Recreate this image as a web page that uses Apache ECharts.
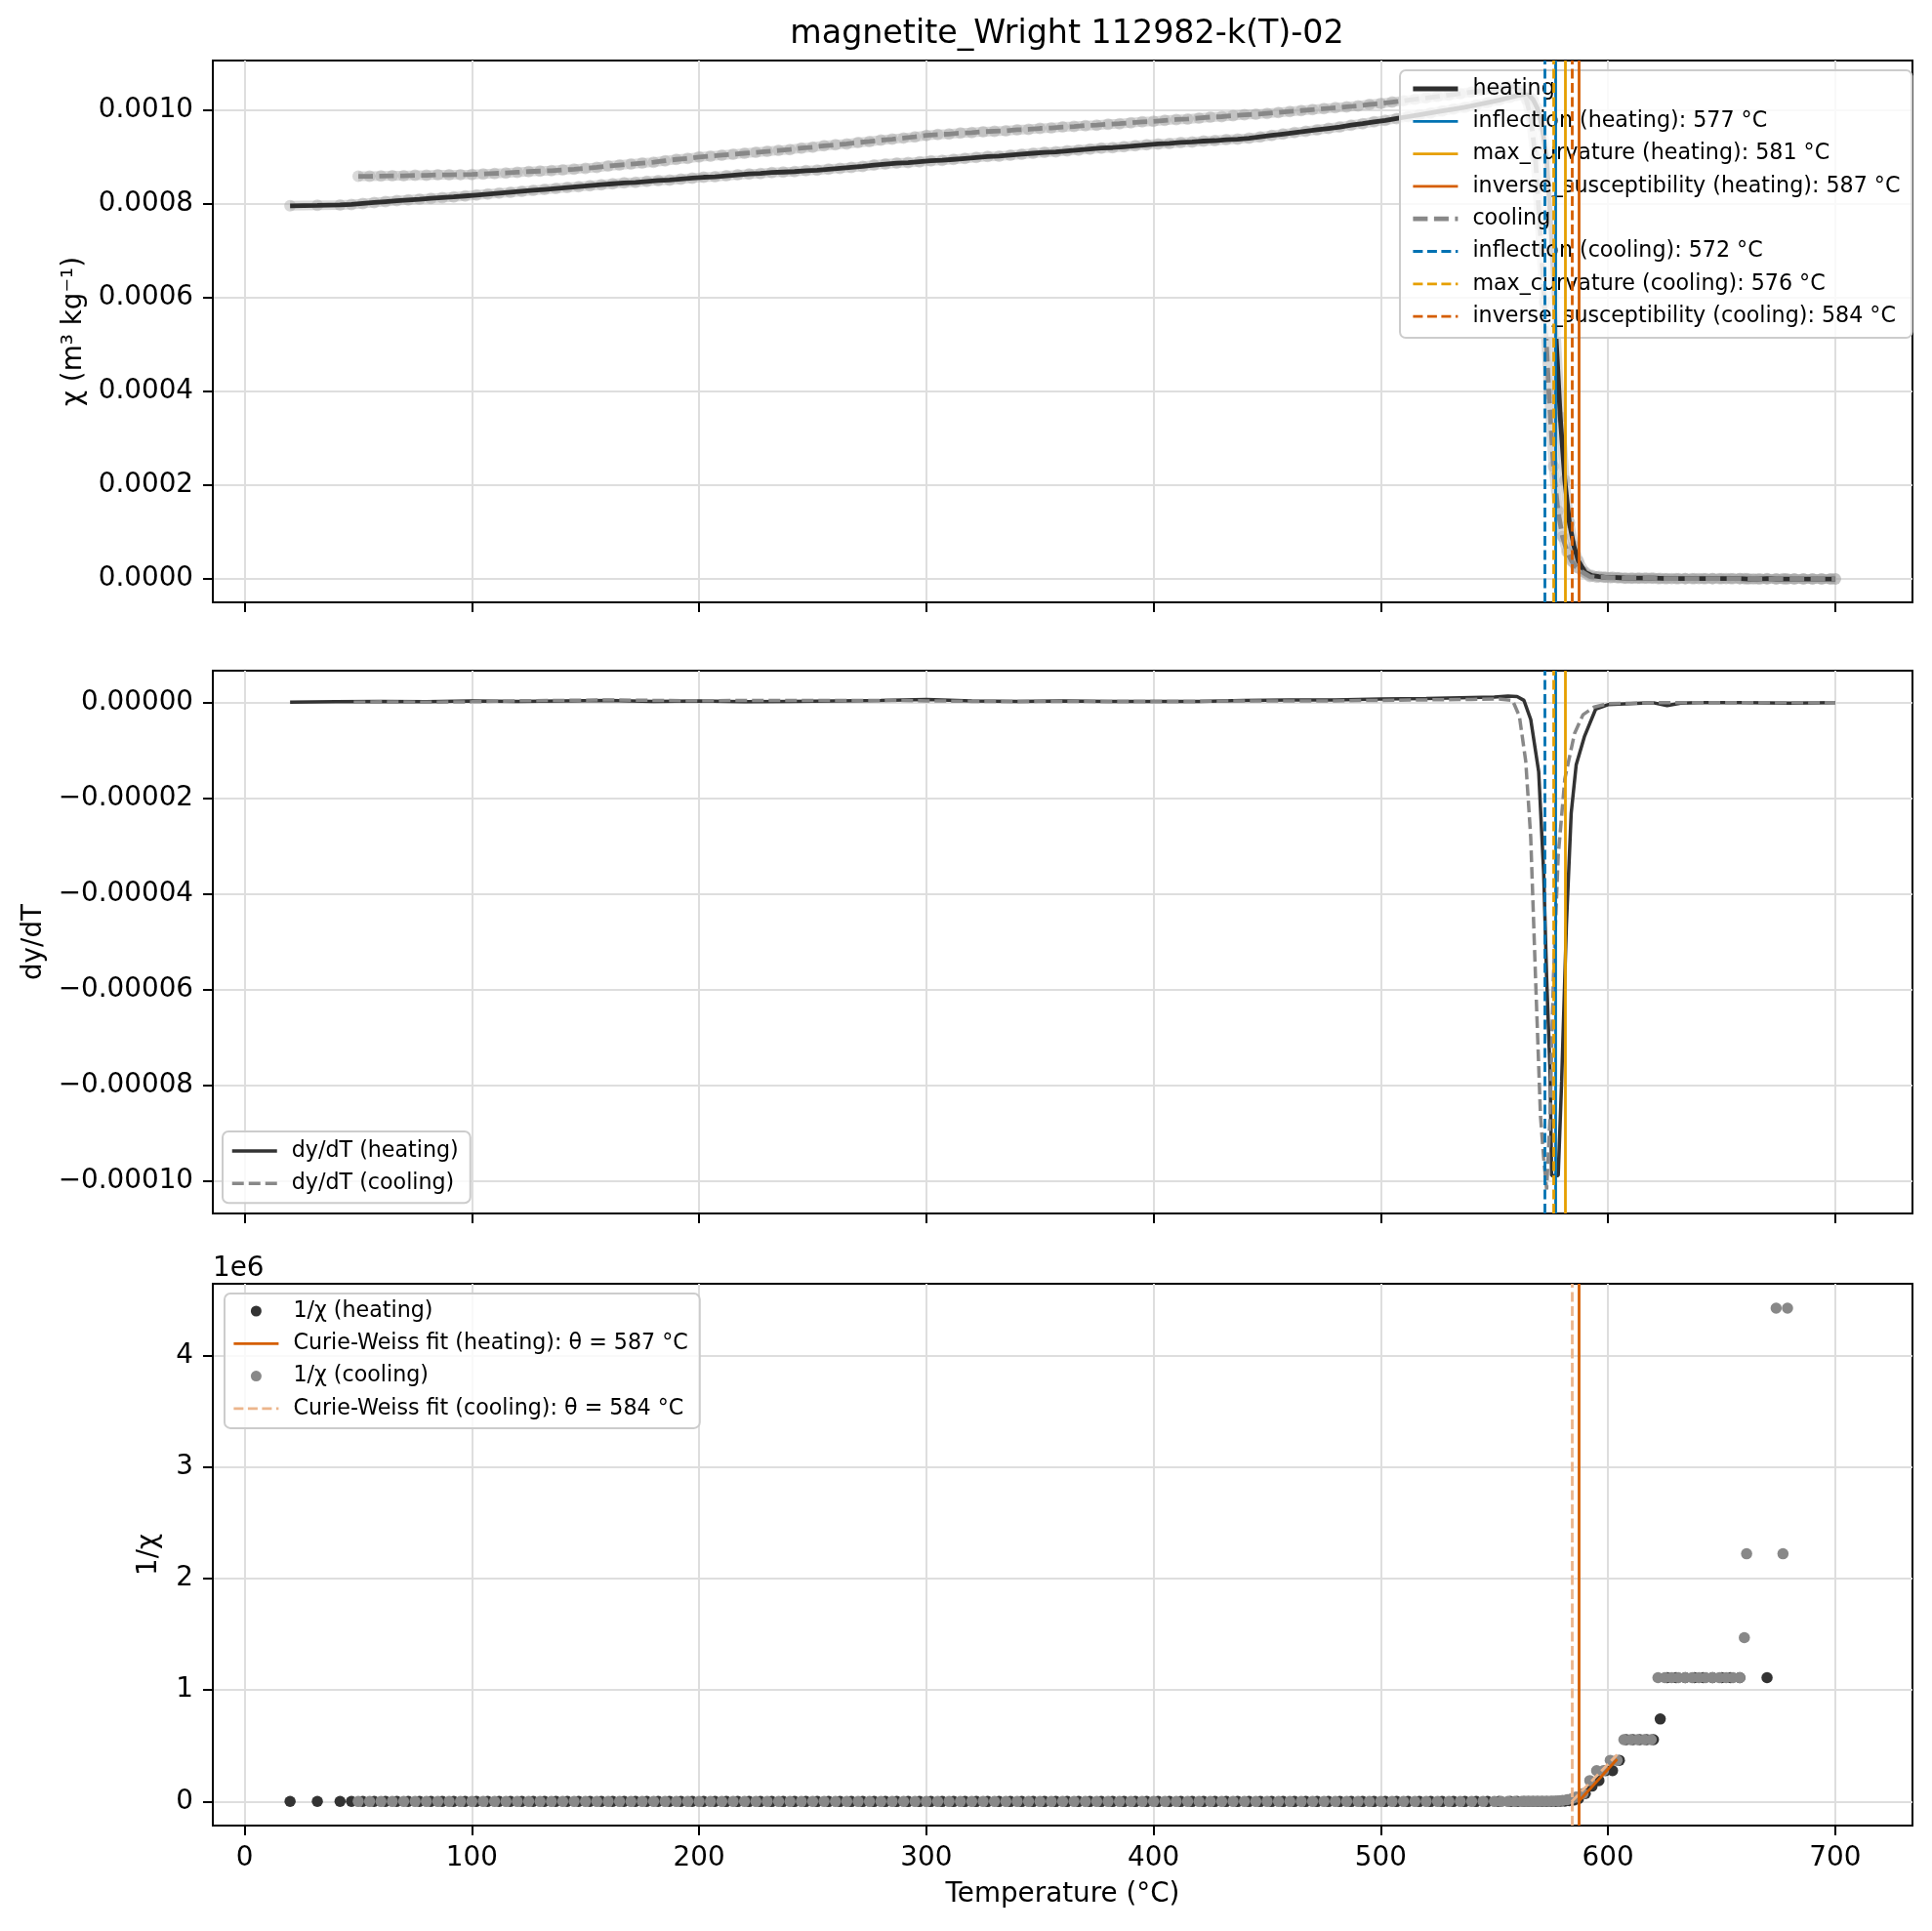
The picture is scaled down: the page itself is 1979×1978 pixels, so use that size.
<!DOCTYPE html>
<html>
<head>
<meta charset="utf-8">
<script src="https://cdn.jsdelivr.net/npm/echarts@6/dist/echarts.min.js"></script>
<style>
  html, body { margin: 0; padding: 0; background: #fff; }
  #chart { width: 1979px; height: 1978px; }
</style>
</head>
<body>
<div id="chart"></div>
<script>
// susceptibility in 1e-6 m3/kg, temperature in °C
const heatT = [
  20, 32, 42, 47, 52, 57, 62, 67, 72, 77,
  82, 87, 92, 97, 102, 107, 112, 117, 122, 127,
  132, 137, 142, 147, 152, 157, 162, 167, 172, 177,
  182, 187, 192, 197, 202, 207, 212, 217, 222, 227,
  232, 237, 242, 247, 252, 257, 262, 267, 272, 277,
  282, 287, 292, 297, 302, 307, 312, 317, 322, 327,
  332, 337, 342, 347, 352, 357, 362, 367, 372, 377,
  382, 387, 392, 397, 402, 407, 412, 417, 422, 427,
  432, 437, 442, 447, 452, 457, 462, 467, 472, 477,
  482, 487, 492, 497, 502, 507, 512, 517, 522, 527,
  532, 537, 542, 547, 552, 557, 560, 563, 565, 567,
  569, 571, 573, 575, 577, 579, 581, 583, 585, 587,
  590, 593, 596, 599, 602, 605, 608, 611, 614, 617,
  620, 623, 626, 630, 634, 638, 642, 646, 650, 654,
  658, 662, 666, 670, 674, 678, 682, 686, 690, 694,
  698, 700
];
const heatChi = [
  795, 796, 797, 798, 800, 802, 804, 806, 807.5, 809,
  811, 812.5, 814, 816, 818, 820, 822, 824, 826, 828,
  830, 832, 834, 836, 838, 840, 842, 844, 845, 847,
  849, 850, 852, 854, 856, 857, 859, 861, 863, 864,
  866, 867, 868, 870, 871, 873, 875, 877, 879, 882,
  884, 886, 887, 889, 891, 892, 894, 896, 898, 900,
  901, 903, 905, 907, 909, 910, 912, 914, 916, 918,
  919, 921, 923, 925, 927, 928, 930, 931, 933, 934,
  936, 937, 939, 942, 945, 948, 951, 954, 957, 960,
  963, 967, 970, 974, 977, 981, 985, 989, 993, 997,
  1001, 1005, 1010, 1015, 1020, 1026, 1030, 1032, 1031, 1022,
  1002, 965, 895, 745, 530, 345, 210, 120, 70, 38,
  14, 7.2, 5.3, 3.6, 3.6, 2.7, 1.8, 1.8, 1.8, 1.8,
  1.8, 1.35, 0.9, 0.9, 0.9, 0.9, 0.9, 0.9, 0.9, 0.9,
  0.9, 0, 0, 0.9, 0, 0, 0, 0, 0, 0,
  0, 0
];
const coolT = [
  50, 55, 60, 65, 70, 75, 80, 85, 90, 95,
  100, 105, 110, 115, 120, 125, 130, 135, 140, 145,
  150, 155, 160, 165, 170, 175, 180, 185, 190, 195,
  200, 205, 210, 215, 220, 225, 230, 235, 240, 245,
  250, 255, 260, 265, 270, 275, 280, 285, 290, 295,
  300, 305, 310, 315, 320, 325, 330, 335, 340, 345,
  350, 355, 360, 365, 370, 375, 380, 385, 390, 395,
  400, 405, 410, 415, 420, 425, 430, 435, 440, 445,
  450, 455, 460, 465, 470, 475, 480, 485, 490, 495,
  500, 505, 510, 515, 520, 525, 530, 535, 540, 545,
  550, 553, 556, 559, 562, 564, 566, 568, 570, 572,
  574, 576, 578, 580, 582, 584, 586, 589, 592, 595,
  598, 601, 604, 607, 610, 613, 616, 619, 622, 625,
  628, 631, 634, 637, 640, 643, 646, 649, 652, 655,
  658, 660, 661, 664, 667, 670, 674, 677, 679, 682,
  686, 690, 694, 698, 700
];
const coolChi = [
  858, 858, 858.5, 859, 859, 860, 860, 861, 861, 861.5,
  862, 863, 864, 865, 866.5, 868, 869, 870, 871.5, 873,
  875, 877, 880, 882, 884, 886, 888, 891, 894, 896,
  899, 901, 903, 905, 907, 909, 911, 913, 915, 918,
  920, 923, 925, 927, 930, 932, 935, 937, 939.5, 942,
  945, 947, 948, 950, 951, 953, 954, 955, 957, 958,
  960, 961, 963, 964, 966, 967, 969, 970, 972, 974,
  975, 977, 979, 980, 982, 984, 985, 987, 989, 990,
  992, 994, 996, 998, 1000, 1002, 1004, 1006, 1008, 1011,
  1013, 1016, 1019, 1022, 1025, 1028, 1031, 1034, 1037.5, 1041,
  1044, 1047, 1050, 1049, 1040, 1022, 985, 900, 755, 590,
  395, 240, 145, 90, 58, 38, 25, 14, 5.3, 3.6,
  3.6, 2.7, 2.7, 1.8, 1.8, 1.8, 1.8, 1.8, 0.9, 0.9,
  0.9, 0.9, 0.9, 0.9, 0.9, 0.9, 0.9, 0.9, 0.9, 0.9,
  0.9, 0.68, 0.45, 0, 0, 0, 0.226, 0.45, 0.226, 0,
  0, 0, 0, 0, 0
];

// dy/dT in 1e-6 per °C
const dHeatT = [20, 40, 60, 80, 100, 120, 140, 160, 180, 200, 220, 240, 260, 280, 300, 320, 340, 360, 380, 400,
  420, 440, 460, 480, 500, 520, 540, 550, 556, 560, 563, 566, 569.5, 571.7, 573, 574.5, 575.2, 578.1, 579.6, 581.7,
  583.8, 586, 589.6, 594.6, 600, 610, 620, 626, 632, 640, 660, 680, 700];
const dHeat = [0.1, 0.2, 0.3, 0.2, 0.4, 0.3, 0.4, 0.5, 0.3, 0.4, 0.2, 0.3, 0.4, 0.5, 0.7, 0.4, 0.3, 0.4, 0.3, 0.3,
  0.3, 0.5, 0.6, 0.6, 0.8, 0.9, 1.1, 1.2, 1.4, 1.3, 0.5, -3.5, -14.4, -35.5, -57.3, -77, -98.8, -98.8, -79.1, -46.4,
  -23.1, -13, -7.1, -1.3, -0.4, -0.2, 0, -0.6, -0.1, 0, 0, -0.1, 0];
const dCoolT = [48, 60, 80, 100, 120, 140, 160, 180, 200, 220, 240, 260, 280, 300, 320, 340, 360, 380, 400, 420,
  440, 460, 480, 500, 520, 540, 552, 558, 561, 563.8, 566, 568.1, 570.3, 571.7, 573, 574.5, 576, 578.1, 581, 585.3,
  589, 593.9, 600, 620, 640, 660, 680, 700];
const dCool = [0.1, 0.2, 0.1, 0.2, 0.4, 0.5, 0.6, 0.5, 0.4, 0.5, 0.5, 0.5, 0.5, 0.4, 0.3, 0.3, 0.3, 0.3, 0.3, 0.3,
  0.4, 0.4, 0.4, 0.5, 0.6, 0.7, 0.8, 0.5, -2.8, -12.2, -28.2, -57.3, -86.4, -95.1, -101.7, -86.4, -57.3, -31.9, -15.9, -6.4,
  -2.5, -0.9, -0.2, 0, 0, 0, 0, 0];

// Curie temperature estimates
const markKinds = ['inflection', 'max_curvature', 'inverse_susceptibility'];
const heatMarkT = [577, 581, 587];
const coolMarkT = [572, 576, 584];

// Curie-Weiss fit lines, 1/chi in 1e6
const fitHeatT = [587, 604];
const fitHeatInv = [0, 0.38];
const fitCoolT = [584, 604];
const fitCoolInv = [0, 0.42];

const tempTicks = [0, 100, 200, 300, 400, 500, 600, 700];
const chiTicks = [0, 200, 400, 600, 800, 1000];
const dTicks = [0, -20, -40, -60, -80, -100];
const invTicks = [0, 1, 2, 3, 4];

const FONT = 'DejaVu Sans';
const BLUE = '#0072B2', ORANGE = '#E69F00', VERM = '#D55E00', PEACH = '#ecb58c';
const markColors = [BLUE, ORANGE, VERM];
const TICK = 27.8, SMALL = 22.2;
const W_MAIN = 4.8, W_MARK = 2.8, W_DERIV = 3.5;

const pairs = (xs, ys) => xs.map((x, i) => [x, ys[i]]);
const invPairs = (xs, ys) => pairs(xs, ys).filter(p => p[1] > 0).map(p => [p[0], 1 / p[1]]);

const grids = [
  { left: 218, top: 62, width: 1741, height: 555 },
  { left: 218, top: 687, width: 1741, height: 556 },
  { left: 218, top: 1315, width: 1741, height: 555 }
].map(g => Object.assign(g, { show: true, borderColor: '#000', borderWidth: 2 }));

function xAxisFor(gridIndex, showLabels) {
  return {
    type: 'value', gridIndex, min: -14, max: 734,
    axisLine: { show: true, onZero: false, lineStyle: { color: '#000', width: 2 } },
    axisTick: { show: true, length: 10, customValues: tempTicks, lineStyle: { color: '#000', width: 2 } },
    axisLabel: { show: showLabels, customValues: tempTicks, margin: 20, fontSize: TICK, color: '#000', fontFamily: FONT },
    splitLine: { show: true, lineStyle: { color: '#dedede', width: 2 } },
    name: showLabels ? 'Temperature (°C)' : '',
    nameLocation: 'middle', nameGap: 57,
    nameTextStyle: { fontSize: TICK, color: '#000', fontFamily: FONT }
  };
}

function yAxisFor(gridIndex, min, max, ticks, fmt, name, nameGap) {
  return {
    type: 'value', gridIndex, min, max,
    axisLine: { show: true, onZero: false, lineStyle: { color: '#000', width: 2 } },
    axisTick: { show: true, length: 10, customValues: ticks, lineStyle: { color: '#000', width: 2 } },
    axisLabel: { customValues: ticks, formatter: fmt, margin: 20, fontSize: TICK, color: '#000', fontFamily: FONT },
    splitLine: { show: true, lineStyle: { color: '#dedede', width: 2 } },
    name, nameLocation: 'middle', nameGap,
    nameTextStyle: { fontSize: TICK, color: '#000', fontFamily: FONT }
  };
}

function vline(name, t, color, dashed, idx) {
  const ls = { color, width: W_MARK, type: dashed ? [10, 4.5] : 'solid' };
  return {
    name, type: 'line', xAxisIndex: idx, yAxisIndex: idx, data: [], symbol: 'none',
    lineStyle: ls, itemStyle: { color },
    markLine: {
      silent: true, symbol: ['none', 'none'], label: { show: false },
      lineStyle: ls, emphasis: { disabled: true }, data: [{ xAxis: t }]
    }
  };
}

// light raw-data trace under the smoothed curves
function rawBand(t, chi) {
  return {
    type: 'line', xAxisIndex: 0, yAxisIndex: 0, z: 1, data: pairs(t, chi),
    symbol: 'circle', symbolSize: 12, showAllSymbol: true,
    lineStyle: { color: 'rgba(165,165,165,0.42)', width: 10 },
    itemStyle: { color: 'rgba(165,165,165,0.42)' }
  };
}

const heatLabel = (k, i) => `${k} (heating): ${heatMarkT[i]} °C`;
const coolLabel = (k, i) => `${k} (cooling): ${coolMarkT[i]} °C`;
const heatFitName = `Curie-Weiss fit (heating): θ = ${heatMarkT[2]} °C`;
const coolFitName = `Curie-Weiss fit (cooling): θ = ${coolMarkT[2]} °C`;

const series = [
  rawBand(heatT, heatChi),
  rawBand(coolT, coolChi),
  {
    name: 'heating', type: 'line', xAxisIndex: 0, yAxisIndex: 0, data: pairs(heatT, heatChi),
    symbol: 'none', lineStyle: { color: '#2e2e2e', width: W_MAIN }, itemStyle: { color: '#2e2e2e' }
  },
  ...markKinds.map((k, i) => vline(heatLabel(k, i), heatMarkT[i], markColors[i], false, 0)),
  {
    name: 'cooling', type: 'line', xAxisIndex: 0, yAxisIndex: 0, data: pairs(coolT, coolChi),
    symbol: 'none', lineStyle: { color: '#888888', width: W_MAIN, type: [15, 6.5] }, itemStyle: { color: '#888888' }
  },
  ...markKinds.map((k, i) => vline(coolLabel(k, i), coolMarkT[i], markColors[i], true, 0)),

  {
    name: 'dy/dT (heating)', type: 'line', xAxisIndex: 1, yAxisIndex: 1, data: pairs(dHeatT, dHeat),
    symbol: 'none', lineStyle: { color: '#333333', width: W_DERIV }, itemStyle: { color: '#333333' }
  },
  {
    name: 'dy/dT (cooling)', type: 'line', xAxisIndex: 1, yAxisIndex: 1, data: pairs(dCoolT, dCool),
    symbol: 'none', lineStyle: { color: '#888888', width: W_DERIV, type: [12, 5] }, itemStyle: { color: '#888888' }
  },
  ...markKinds.slice(0, 2).map((k, i) => vline('d ' + heatLabel(k, i), heatMarkT[i], markColors[i], false, 1)),
  ...markKinds.slice(0, 2).map((k, i) => vline('d ' + coolLabel(k, i), coolMarkT[i], markColors[i], true, 1)),

  {
    name: '1/χ (heating)', type: 'scatter', xAxisIndex: 2, yAxisIndex: 2, data: invPairs(heatT, heatChi),
    symbol: 'circle', symbolSize: 11.5, itemStyle: { color: '#333333', opacity: 1 }
  },
  Object.assign(vline(heatFitName, heatMarkT[2], VERM, false, 2), { data: pairs(fitHeatT, fitHeatInv) }),
  {
    name: '1/χ (cooling)', type: 'scatter', xAxisIndex: 2, yAxisIndex: 2, data: invPairs(coolT, coolChi),
    symbol: 'circle', symbolSize: 11.5, itemStyle: { color: '#888888', opacity: 1 }
  },
  Object.assign(vline(coolFitName, coolMarkT[2], PEACH, true, 2), { data: pairs(fitCoolT, fitCoolInv) })
];

// line entries in a legend: hide the symbol ECharts puts on line icons, keep the line width
const lineEntry = (name, width) => ({ name, itemStyle: { opacity: 0 }, lineStyle: { width } });

const legendBase = {
  orient: 'vertical', selectedMode: false, itemWidth: 46, itemHeight: 14, itemGap: 7.3,
  backgroundColor: 'rgba(255,255,255,0.8)', borderColor: '#cccccc', borderWidth: 2, borderRadius: 6,
  textStyle: { fontSize: SMALL, fontFamily: FONT, color: '#000', lineHeight: 26, padding: [0, 0, 0, 10] }
};

const chart = echarts.init(document.getElementById('chart'));
chart.setOption({
  animation: false,
  backgroundColor: '#fff',
  title: {
    text: 'magnetite_Wright 112982-k(T)-02', left: 1088, top: 14, textAlign: 'center',
    textStyle: { fontSize: 33.3, fontWeight: 'normal', color: '#000', fontFamily: FONT }
  },
  graphic: [{
    type: 'text', left: 218, top: 1286,
    style: { text: '1e6', fontSize: TICK, fontFamily: FONT, fill: '#000' }
  }],
  grid: grids,
  xAxis: [xAxisFor(0, false), xAxisFor(1, false), xAxisFor(2, true)],
  yAxis: [
    yAxisFor(0, -49.8, 1104.6, chiTicks, v => (v / 1e6).toFixed(4), 'χ (m³ kg⁻¹)', 126),
    yAxisFor(1, -106.7, 6.7, dTicks, v => (v < 0 ? '\u2212' : '') + Math.abs(v / 1e6).toFixed(5), 'dy/dT', 168),
    yAxisFor(2, -0.215, 4.644, invTicks, v => String(v), '1/χ', 51)
  ],
  legend: [
    Object.assign({}, legendBase, {
      left: 1434, top: 72, padding: [6, 12, 9, 11],
      data: [
        lineEntry('heating', W_MAIN),
        ...markKinds.map((k, i) => lineEntry(heatLabel(k, i), W_MARK)),
        lineEntry('cooling', W_MAIN),
        ...markKinds.map((k, i) => lineEntry(coolLabel(k, i), W_MARK))
      ]
    }),
    Object.assign({}, legendBase, {
      left: 228, top: 1159, padding: [7, 12, 7, 8],
      data: [lineEntry('dy/dT (heating)', W_DERIV), lineEntry('dy/dT (cooling)', W_DERIV)]
    }),
    Object.assign({}, legendBase, {
      left: 230, top: 1325, padding: [5, 12, 7, 8], itemHeight: 11,
      data: ['1/χ (heating)', lineEntry(heatFitName, W_MARK), '1/χ (cooling)', lineEntry(coolFitName, W_MARK)]
    })
  ],
  series
});
</script>
</body>
</html>
